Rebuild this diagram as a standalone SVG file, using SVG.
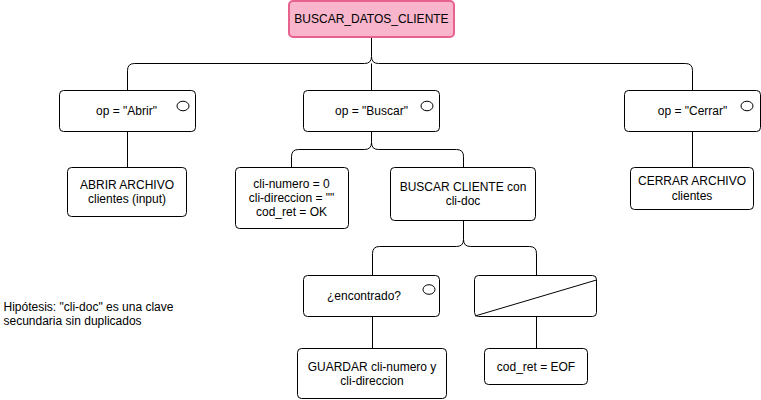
<svg xmlns="http://www.w3.org/2000/svg" width="761" height="400" viewBox="0 0 761 400">
<style>
.box{fill:#fff;stroke:#000;stroke-width:1}
.root{fill:#f8b5cb;stroke:#e8628e;stroke-width:2}
.ln{fill:none;stroke:#000;stroke-width:1}
.circ{fill:#fff;stroke:#000;stroke-width:1}
text{font-family:"Liberation Sans",Arial,sans-serif;font-size:12px;fill:#000;text-anchor:middle;dominant-baseline:central}
.left{text-anchor:start}
</style>
<rect width="761" height="400" fill="#fff"/>
<g id="connectors">
<path class="ln" d="M371.5,37 V56.5 Q371.5,63.5 364.5,63.5 H134.5 Q127.5,63.5 127.5,70.5 V90.5 M371.5,56.5 Q371.5,63.5 378.5,63.5 H685.5 Q692.5,63.5 692.5,70.5 V90.5 M371.5,63.5 V90.5"/>
<path class="ln" d="M127.5,131.5 V167.5"/>
<path class="ln" d="M692.5,131.5 V167.5"/>
<path class="ln" d="M371.5,131.5 V142.5 Q371.5,149.5 364.5,149.5 H298.5 Q291.5,149.5 291.5,156.5 V167.5 M371.5,142.5 Q371.5,149.5 378.5,149.5 H456.5 Q463.5,149.5 463.5,156.5 V167.5"/>
<path class="ln" d="M463.5,220.5 V239.5 Q463.5,246.5 456.5,246.5 H379.5 Q372.5,246.5 372.5,253.5 V275.5 M463.5,239.5 Q463.5,246.5 470.5,246.5 H529.5 Q536.5,246.5 536.5,253.5 V275.5"/>
<path class="ln" d="M372.5,316.5 V348.5"/>
<path class="ln" d="M536.5,316.5 V348.5"/>
</g>
<g id="root">
<rect class="root" x="289" y="1" width="165" height="36" rx="4"/>
<text x="371.5" y="19">BUSCAR_DATOS_CLIENTE</text>
</g>
<g id="op-abrir">
<rect class="box" x="59.5" y="90.5" width="136" height="41" rx="4"/>
<text x="126.5" y="111">op = "Abrir"</text>
<ellipse class="circ" cx="183" cy="106" rx="6" ry="4.8"/>
</g>
<g id="op-buscar">
<rect class="box" x="303.5" y="90.5" width="136" height="41" rx="4"/>
<text x="371.5" y="111">op = "Buscar"</text>
<ellipse class="circ" cx="427" cy="106" rx="6" ry="4.8"/>
</g>
<g id="op-cerrar">
<rect class="box" x="624.5" y="90.5" width="136" height="41" rx="4"/>
<text x="692.5" y="111">op = "Cerrar"</text>
<ellipse class="circ" cx="747" cy="106" rx="6" ry="4.8"/>
</g>
<g id="abrir-archivo">
<rect class="box" x="67.5" y="167.5" width="119" height="49" rx="4"/>
<text x="127" y="184.6">ABRIR ARCHIVO</text>
<text x="127" y="199">clientes (input)</text>
</g>
<g id="init">
<rect class="box" x="235.5" y="167.5" width="113" height="61" rx="4"/>
<text x="291.5" y="183.6">cli-numero = 0</text>
<text x="291.5" y="198">cli-direccion = ""</text>
<text x="291.5" y="212.4">cod_ret = OK</text>
</g>
<g id="buscar-cliente">
<rect class="box" x="390.5" y="167.5" width="145" height="53" rx="4"/>
<text x="463" y="186.6">BUSCAR CLIENTE con</text>
<text x="463" y="201">cli-doc</text>
</g>
<g id="cerrar-archivo">
<rect class="box" x="630.5" y="167.5" width="123" height="42" rx="4"/>
<text x="692" y="181.3">CERRAR ARCHIVO</text>
<text x="692" y="195.7">clientes</text>
</g>
<g id="encontrado">
<rect class="box" x="303.5" y="275.5" width="136" height="41" rx="4"/>
<text x="364" y="296">¿encontrado?</text>
<ellipse class="circ" cx="429" cy="289.5" rx="6" ry="4.8"/>
</g>
<g id="else">
<rect class="box" x="474.5" y="275.5" width="122" height="41" rx="4"/>
<path class="ln" d="M475,316 L596.5,280"/>
</g>
<g id="guardar">
<rect class="box" x="297.5" y="348.5" width="149" height="50" rx="4"/>
<text x="372" y="366.8">GUARDAR cli-numero y</text>
<text x="372" y="381.2">cli-direccion</text>
</g>
<g id="eof">
<rect class="box" x="484.5" y="348.5" width="103" height="36" rx="4"/>
<text x="536" y="366.5">cod_ret = EOF</text>
</g>
<g id="note">
<text class="left" x="3.5" y="307">Hipótesis: "cli-doc" es una clave</text>
<text class="left" x="3.5" y="321.4">secundaria sin duplicados</text>
</g>
</svg>
